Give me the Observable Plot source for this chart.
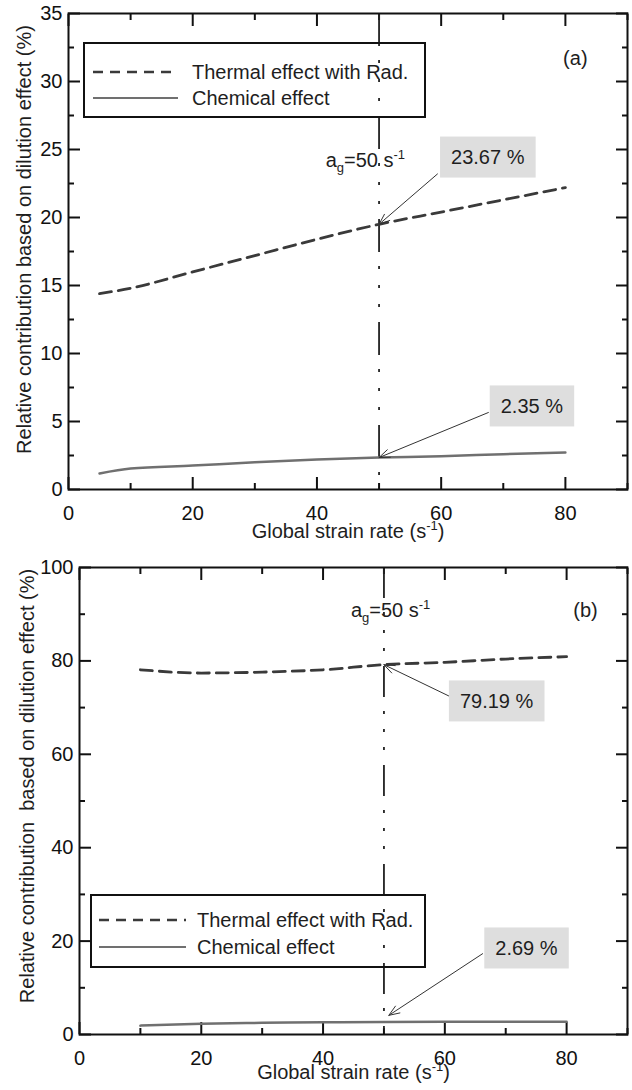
<!DOCTYPE html>
<html><head><meta charset="utf-8">
<script src="https://cdn.jsdelivr.net/npm/d3@7"></script>
<script src="https://cdn.jsdelivr.net/npm/@observablehq/plot@0.6"></script>
<style>
html,body{margin:0;padding:0;background:#fff;}
body{width:632px;height:1090px;overflow:hidden;font-family:"Liberation Sans",Arial,sans-serif;}
#pa,#pb{display:block;line-height:0;}
svg{display:block;}
</style></head><body>
<div id="pa"></div><div id="pb"></div>
<script>
// ---------- data ----------
const seriesNames = ["Thermal effect with Rad.", "Chemical effect"];
const strainA   = [5, 10, 20, 30, 40, 50, 60, 70, 80];
const thermalA  = [14.4, 14.8, 16.0, 17.2, 18.4, 19.5, 20.4, 21.3, 22.2];
const chemicalA = [1.18, 1.54, 1.76, 2.0, 2.2, 2.35, 2.45, 2.6, 2.72];
const strainB   = [10, 20, 30, 40, 50, 60, 70, 80];
const thermalB  = [78.1, 77.4, 77.6, 78.1, 79.19, 79.7, 80.4, 80.9];
const chemicalB = [1.9, 2.3, 2.5, 2.6, 2.69, 2.72, 2.72, 2.72];

const xDomain = [0, 90];
const xMajor = [0, 20, 40, 60, 80];
const xMinor = [10, 30, 50, 70, 90];
const yDomainA = [0, 35];
const yMajorA = [0, 5, 10, 15, 20, 25, 30, 35];
const yMinorA = [2.5, 7.5, 12.5, 17.5, 22.5, 27.5, 32.5];
const yDomainB = [0, 100];
const yMajorB = [0, 20, 40, 60, 80, 100];
const yMinorB = [10, 30, 50, 70, 90];

const refStrain = [50];
const xTitle = "Global strain rate (s-1)";
const yTitleA = "Relative contribution based on dilution effect (%)";
const yTitleB = "Relative contribution  based on dilution effect (%)";
const panelLabelA = ["(a)"], panelLabelAx = [81.6], panelLabelAy = [31.7];
const panelLabelB = ["(b)"], panelLabelBx = [83.1], panelLabelBy = [90.8];
const agLabel = "ag=50 s-1";
const agAx = [47.8], agAy = [24.2];
const agBx = [51.1], agBy = [90.8];

// callouts (value boxes + arrows)
const calloutA   = ["23.67 %", "2.35 %"];
const calloutAx  = [67.5, 74.6];
const calloutAy  = [24.4, 6.1];
const arrowAx1   = [59.4, 67.6];
const arrowAy1   = [23.2, 5.66];
const arrowAx2   = [50, 50];
const arrowAy2   = [19.5, 2.35];
const calloutB   = ["79.19 %", "2.69 %"];
const calloutBx  = [68.5, 73.4];
const calloutBy  = [71.3, 18.4];
const arrowBx1   = [60.8, 66.2];
const arrowBy1   = [72.4, 17.3];
const arrowBx2   = [50, 50.8];
const arrowBy2   = [79.19, 4.1];

// ---------- styling ----------
const FONT = '"Liberation Sans", Arial, Helvetica, sans-serif';
const INK = "#1e1e1e";
const THERMAL_COLOR = "#3a3a3a";
const CHEM_COLOR = "#707070";

function panel(o) {
  const marks = [
    // inward ticks on four sides
    Plot.axisX({ticks: xMajor, anchor: "bottom", tickSize: -12, tickFormat: () => "", strokeWidth: 2}),
    Plot.axisX({ticks: xMinor, anchor: "bottom", tickSize: -6, tickFormat: () => "", strokeWidth: 2}),
    Plot.axisX({ticks: xMajor, anchor: "top", tickSize: -12, tickFormat: () => "", strokeWidth: 2}),
    Plot.axisX({ticks: xMinor, anchor: "top", tickSize: -6, tickFormat: () => "", strokeWidth: 2}),
    Plot.axisY({ticks: o.yMajor, anchor: "left", tickSize: -12, tickFormat: () => "", strokeWidth: 2}),
    Plot.axisY({ticks: o.yMinor, anchor: "left", tickSize: -6, tickFormat: () => "", strokeWidth: 2}),
    Plot.axisY({ticks: o.yMajor, anchor: "right", tickSize: -12, tickFormat: () => "", strokeWidth: 2}),
    Plot.axisY({ticks: o.yMinor, anchor: "right", tickSize: -6, tickFormat: () => "", strokeWidth: 2}),
    // tick labels
    Plot.axisX({ticks: xMajor, anchor: "bottom", tickSize: 0, tickPadding: 16, fontSize: 20, label: null}),
    Plot.axisY({ticks: o.yMajor, anchor: "left", tickSize: 0, tickPadding: 6, fontSize: 20, label: null}),
    // reference line
    Plot.ruleX(refStrain, {stroke: "#222", strokeWidth: 1.8, strokeDasharray: o.refDash}),
    // series
    Plot.line(o.strain, {x: o.strain, y: o.thermal, stroke: THERMAL_COLOR, strokeWidth: 2.8, strokeDasharray: "12,7", curve: "monotone-x"}),
    Plot.line(o.strain, {x: o.strain, y: o.chemical, stroke: CHEM_COLOR, strokeWidth: 2.5, curve: "monotone-x"}),
    // arrows
    Plot.arrow(o.callout, {x1: o.ax1, y1: o.ay1, x2: o.ax2, y2: o.ay2, stroke: "#333", strokeWidth: 1, headLength: 17, headAngle: 42}),
    // value boxes text
    Plot.text(o.callout, {x: o.cx, y: o.cy, fontSize: 20, fill: INK, className: "valbox"}),
    // ag label
    Plot.text([agLabel], {x: o.agx, y: o.agy, fontSize: 20, fill: INK, className: "aglabel"}),
    // panel label
    Plot.text(o.plabel, {x: o.plx, y: o.ply, fontSize: 20, fill: INK}),
    // axis titles
    Plot.text([xTitle], {frameAnchor: "bottom", textAnchor: "middle", dy: o.xTitleDy, fontSize: 20, fill: INK, className: "xtitle"}),
    Plot.text([o.yTitle], {frameAnchor: "left", textAnchor: "middle", rotate: -90, dx: o.yTitleDx, dy: o.yTitleDy, fontSize: 20, fill: INK, className: "ytitle"}),
    Plot.frame({stroke: "#111", strokeWidth: 2})
  ];
  return Plot.plot({
    width: 632, height: o.height,
    marginTop: o.mt, marginBottom: o.mb, marginLeft: o.ml, marginRight: 5,
    x: {domain: xDomain},
    y: {domain: o.yDomain},
    style: {fontFamily: FONT, fontSize: "20px", color: "#111", background: "white", overflow: "visible"},
    marks
  });
}

function rich(sel, parts) {
  sel.each(function() {
    const t = d3.select(this);
    t.text("");
    for (const p of parts) {
      const ts = t.append("tspan").text(p.t);
      if (p.dy) ts.attr("dy", p.dy);
      if (p.fs) ts.attr("font-size", p.fs);
    }
  });
}

function finish(svg, leg) {
  const s = d3.select(svg);
  // value boxes
  s.selectAll(".valbox text").each(function() {
    const b = this.getBBox();
    const tr = this.getAttribute("transform");
    const r = document.createElementNS("http://www.w3.org/2000/svg", "rect");
    r.setAttribute("x", b.x - 11); r.setAttribute("y", b.y - 9.5);
    r.setAttribute("width", b.width + 22); r.setAttribute("height", b.height + 19);
    r.setAttribute("fill", "#dedede");
    if (tr) r.setAttribute("transform", tr);
    this.parentNode.insertBefore(r, this);
  });
  rich(s.selectAll(".aglabel text"), [{t: "a"}, {t: "g", dy: 5, fs: 13}, {t: "=50 s", dy: -5}, {t: "-1", dy: -8, fs: 13}]);
  rich(s.selectAll(".xtitle text"), [{t: "Global strain rate (s"}, {t: "-1", dy: -8, fs: 13}, {t: ")", dy: 8}]);
  s.selectAll(".ytitle text").style("white-space", "pre");
  // legend
  const g = s.append("g").attr("font-family", FONT).attr("font-size", 20).attr("text-anchor", "start");
  g.append("rect").attr("x", leg.x).attr("y", leg.y).attr("width", leg.w).attr("height", leg.h)
    .attr("fill", "none").attr("stroke", "#111").attr("stroke-width", 2);
  const rows = [
    {name: seriesNames[0], y: leg.r1, stroke: THERMAL_COLOR, dash: "10,7", sw: 2.4},
    {name: seriesNames[1], y: leg.r2, stroke: CHEM_COLOR, dash: null, sw: 2.2}
  ];
  for (const r of rows) {
    const ln = g.append("line").attr("x1", leg.lx1).attr("x2", leg.lx2).attr("y1", r.y).attr("y2", r.y)
      .attr("stroke", r.stroke).attr("stroke-width", r.sw);
    if (r.dash) ln.attr("stroke-dasharray", r.dash);
    g.append("text").attr("x", leg.tx).attr("y", r.y).attr("dy", "0.35em").attr("text-anchor", "start").attr("fill", INK).text(r.name);
  }
}

const svgA = panel({
  strain: strainA, thermal: thermalA, chemical: chemicalA,
  yDomain: yDomainA, yMajor: yMajorA, yMinor: yMinorA,
  height: 550, mt: 13, mb: 61, ml: 68,
  refDash: "33,14,3,16,3,16,3,15",
  callout: calloutA, cx: calloutAx, cy: calloutAy, ax1: arrowAx1, ay1: arrowAy1, ax2: arrowAx2, ay2: arrowAy2,
  agx: agAx, agy: agAy, plabel: panelLabelA, plx: panelLabelAx, ply: panelLabelAy,
  xTitleDy: 48, yTitle: yTitleA, yTitleDx: -44, yTitleDy: -12
});
document.getElementById("pa").appendChild(svgA);
finish(svgA, {x: 84, y: 43, w: 341, h: 74, r1: 72, r2: 98, lx1: 93, lx2: 178, tx: 192});

const svgB = panel({
  strain: strainB, thermal: thermalB, chemical: chemicalB,
  yDomain: yDomainB, yMajor: yMajorB, yMinor: yMinorB,
  height: 540, mt: 17, mb: 56, ml: 79,
  refDash: "31,14,3,15,3,15,3,15",
  callout: calloutB, cx: calloutBx, cy: calloutBy, ax1: arrowBx1, ay1: arrowBy1, ax2: arrowBx2, ay2: arrowBy2,
  agx: agBx, agy: agBy, plabel: panelLabelB, plx: panelLabelBx, ply: panelLabelBy,
  xTitleDy: 44, yTitle: yTitleB, yTitleDx: -52, yTitleDy: -15
});
document.getElementById("pb").appendChild(svgB);
finish(svgB, {x: 91, y: 345, w: 334, h: 72, r1: 370, r2: 397, lx1: 99, lx2: 186, tx: 197});
</script>
</body></html>
